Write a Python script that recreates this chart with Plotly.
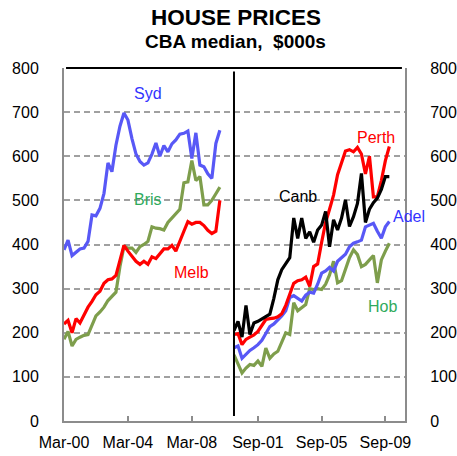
import pandas as pd
import plotly.graph_objects as go

# Quarterly dates Mar-00 .. Dec-09
dates = [d.strftime("%Y-%m-%d") for d in pd.date_range("2000-03-01", periods=40, freq="3MS")]

# Left panel ($000s)
syd = [388, 410, 375, 383, 390, 392, 407, 467, 465, 482,
       516, 585, 565, 625, 668, 698, 682, 640, 605, 588,
       580, 585, 605, 630, 600, 624, 610, 628, 637, 650,
       652, 657, 595, 653, 580, 576, 560, 550, 629, 659]
bris = [185, 203, 170, 185, 190, 194, 196, 218, 238, 247,
        258, 273, 282, 292, 350, 395, 392, 392, 382, 395,
        400, 407, 440, 437, 436, 433, 450, 460, 470, 480,
        540, 542, 590, 545, 554, 490, 490, 500, 515, 530]
melb = [220, 228, 200, 232, 222, 240, 258, 271, 286, 294,
        312, 320, 322, 330, 362, 398, 385, 372, 362, 355,
        362, 355, 372, 368, 380, 390, 390, 398, 385, 410,
        430, 452, 446, 450, 450, 443, 432, 425, 430, 500]

# Right panel ($000s)
perth = [196, 198, 173, 185, 190, 195, 203, 218, 230, 232,
         233, 236, 243, 262, 285, 312, 318, 320, 326, 305,
         350, 356, 405, 450, 480, 512, 558, 588, 612, 615,
         610, 620, 605, 560, 600, 508, 508, 545, 590, 622]
canb = [205, 226, 190, 262, 196, 222, 226, 232, 238, 242,
        278, 320, 343, 358, 370, 460, 414, 460, 414, 429,
        405, 433, 444, 475, 395, 456, 433, 460, 501, 441,
        463, 493, 561, 450, 480, 495, 505, 525, 554, 554]
adel = [166, 170, 142, 152, 160, 166, 173, 183, 200, 214,
        220, 228, 238, 250, 280, 284, 278, 272, 285, 292,
        290, 310, 335, 340, 348, 340, 362, 370, 378, 395,
        403, 406, 410, 440, 444, 448, 430, 414, 440, 452]
hob = [150, 128, 109, 120, 128, 126, 136, 124, 165, 142,
       152, 158, 180, 200, 196, 268, 250, 256, 264, 300,
       298, 300, 298, 310, 331, 362, 313, 318, 345, 370,
       388, 377, 350, 355, 365, 375, 313, 365, 385, 403]

left_ticks = ["2000-03-01", "2004-03-01", "2008-03-01"]
left_labels = ["Mar-00", "Mar-04", "Mar-08"]
right_ticks = ["2001-09-01", "2005-09-01", "2009-09-01"]
right_labels = ["Sep-01", "Sep-05", "Sep-09"]
y_ticks = [0, 100, 200, 300, 400, 500, 600, 700, 800]

BLUE = "#5858F6"
RED = "#FF0000"
GREEN = "#7E9E4C"
BLACK = "#000000"
GRAY = "#8C8C8C"
FONT = "Arial, Liberation Sans, sans-serif"

fig = go.Figure()
for vals, col in [(syd, BLUE), (bris, GREEN), (melb, RED)]:
    fig.add_trace(go.Scatter(x=dates, y=vals, mode="lines", xaxis="x", yaxis="y",
                             line=dict(color=col, width=3.2), showlegend=False, hoverinfo="skip"))
for vals, col in [(hob, GREEN), (adel, BLUE), (perth, RED), (canb, BLACK)]:
    fig.add_trace(go.Scatter(x=dates, y=vals, mode="lines", xaxis="x2", yaxis="y2",
                             line=dict(color=col, width=3.2), showlegend=False, hoverinfo="skip"))

split = 0.4985
xcommon = dict(type="date", showgrid=False, zeroline=False, showline=True, linecolor=GRAY,
               linewidth=2, ticks="inside", ticklen=5, tickwidth=1.5, tickcolor=GRAY,
               automargin=False,
               tickfont=dict(size=16, color="#000", family=FONT), ticklabelstandoff=6)
ycommon = dict(range=[0, 800], tickvals=y_ticks, showgrid=True, gridcolor="#A0A0A0",
               gridwidth=1.5, griddash="6px,4px", zeroline=False, showline=True,
               linecolor=GRAY, linewidth=2, ticks="", automargin=False,
               tickfont=dict(size=16, color="#000", family=FONT), ticklabelstandoff=20)

fig.update_layout(
    width=457, height=456,
    margin=dict(l=64, r=52, t=68, b=35, autoexpand=False),
    paper_bgcolor="white", plot_bgcolor="white",
    font=dict(family=FONT, color="#000"),
    xaxis=dict(domain=[0, split], range=["2000-03-01", "2010-10-20"],
               tickvals=left_ticks, ticktext=left_labels, anchor="y", **xcommon),
    xaxis2=dict(domain=[split, 1], range=["2000-03-01", "2010-11-25"],
                tickvals=right_ticks, ticktext=right_labels, anchor="y2", **xcommon),
    yaxis=dict(domain=[0, 1], anchor="x", side="left", **ycommon),
    yaxis2=dict(domain=[0, 1], anchor="x2", side="right", **ycommon),
)

# frame: black top line and black divider
fig.add_shape(type="line", xref="paper", yref="paper", x0=0.006, x1=0.991, y0=1, y1=1,
              line=dict(color=BLACK, width=2))
fig.add_shape(type="line", xref="paper", yref="paper", x0=split, x1=split, y0=0.014, y1=0.99,
              line=dict(color=BLACK, width=2))

labels = [
    ("Syd", 0.245, 0.929, "#3333FF"),
    ("Bris", 0.246, 0.627, "#2FAA5C"),
    ("Melb", 0.375, 0.422, RED),
    ("Canb", 0.686, 0.635, BLACK),
    ("Perth", 0.915, 0.804, RED),
    ("Adel", 1.012, 0.578, "#3333FF"),
    ("Hob", 0.933, 0.323, "#2FAA5C"),
]
for txt, px, py, col in labels:
    fig.add_annotation(text=txt, xref="paper", yref="paper", x=px, y=py, showarrow=False,
                       xanchor="center", yanchor="middle", font=dict(size=16, color=col, family=FONT))

fig.add_annotation(text="<b>HOUSE PRICES</b>", xref="paper", yref="paper", x=0.504, y=1.0,
                   yshift=36, showarrow=False, xanchor="center", yanchor="bottom",
                   font=dict(size=22.5, color="#000", family=FONT))
fig.add_annotation(text="<b>CBA median,  $000s</b>", xref="paper", yref="paper", x=0.504, y=1.0,
                   yshift=14, showarrow=False, xanchor="center", yanchor="bottom",
                   font=dict(size=19, color="#000", family=FONT))

fig.write_html("out.html", config={"displayModeBar": False},
               post_script="document.body.style.margin='0';document.body.style.overflow='hidden';")
